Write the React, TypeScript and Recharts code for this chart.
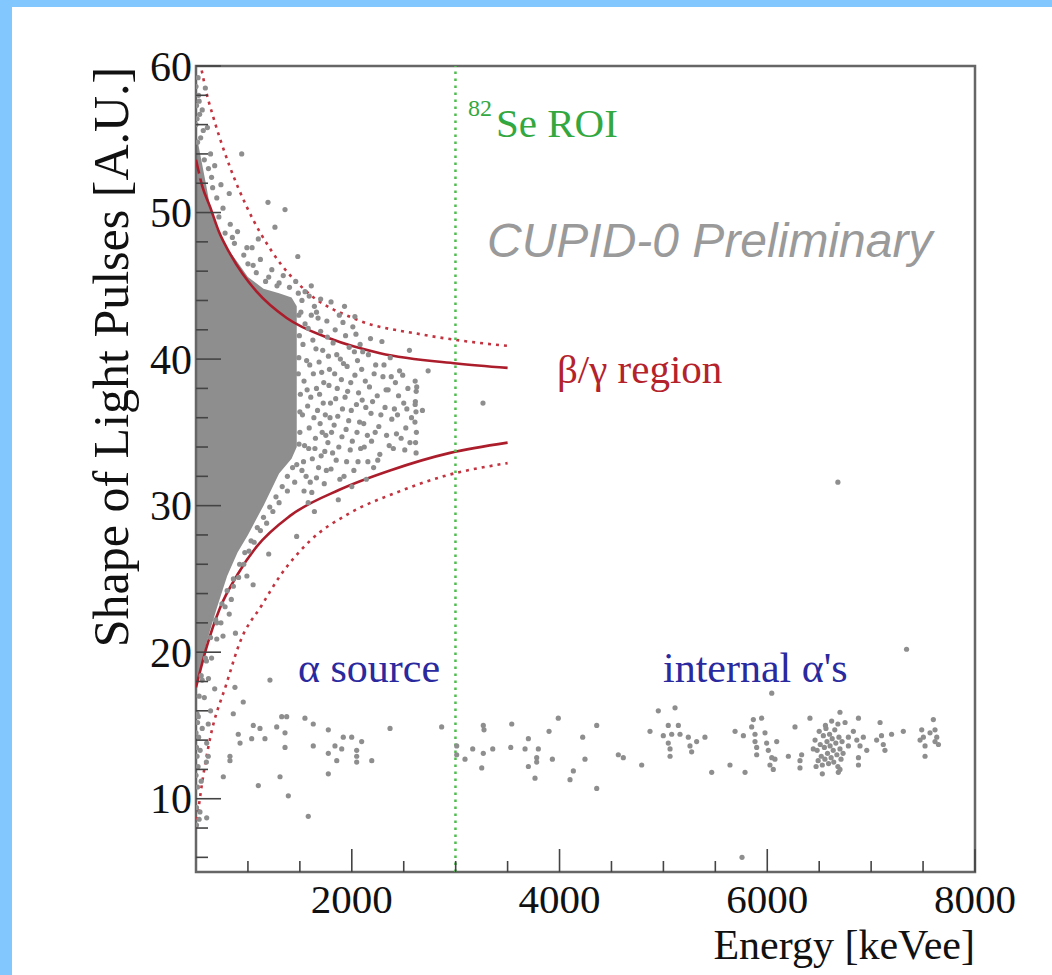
import React from 'react';
import { ComposedChart, XAxis, YAxis, Scatter, Line, Area, ReferenceLine, ReferenceArea } from 'recharts';

// ---- axis ticks ----
const xTicks = [1000, 1500, 2000, 2500, 3000, 3500, 4000, 4500, 5000, 5500, 6000, 6500, 7000, 7500, 8000];
const xMajor = [2000, 4000, 6000, 8000];
const yTicks = [6, 8, 10, 12, 14, 16, 18, 20, 22, 24, 26, 28, 30, 32, 34, 36, 38, 40, 42, 44, 46, 48, 50, 52, 54, 56, 58, 60];
const yMajor = [10, 20, 30, 40, 50, 60];

// ---- dense core of the beta/gamma band: [energy, low, high] ----
const coreBand: [number, number, number][] = [
  [500, 17.5, 55.5], [540, 18.6, 54.0], [600, 20.6, 51.8], [640, 21.6, 50.2], [700, 23.0, 48.9],
  [800, 25.2, 47.6], [900, 26.8, 46.6], [1000, 28.0, 45.6], [1150, 30.0, 44.8], [1300, 32.2, 44.5],
  [1420, 33.2, 44.2], [1470, 34.0, 43.6],
];

// ---- scattered events: [energy keVee, shape] ----
const upperFringe: [number, number][] = [
  [520, 59.2], [530, 57.6], [510, 56.4], [545, 55.1], [560, 57.0], [580, 53.6], [610, 55.8], [540, 52.5],
  [650, 52.4], [700, 51.0], [640, 54.0], [720, 49.7], [760, 50.3], [780, 48.6], [830, 49.2], [870, 47.9],
  [900, 48.7], [960, 47.1], [1000, 46.5], [1040, 47.6], [1080, 45.9], [1120, 46.8], [1170, 45.3], [1230, 46.1],
  [1280, 45.0], [1340, 45.7], [1400, 44.9], [1460, 45.3], [1550, 44.6], [1610, 45.0], [940, 54.0], [1193, 50.7],
  [1357, 50.2], [1260, 49.0], [2030, 42.9], [1930, 43.6], [590, 58.5], [680, 53.2], [820, 51.3], [1100, 48.2],
  [1480, 47.0], [1700, 44.1], [1800, 43.9], [500, 58.6], [505, 57.3], [515, 54.8], [525, 58.0], [500, 56.0],
  [535, 56.7], [570, 55.6], [620, 53.0], [660, 51.7], [740, 51.9], [850, 48.3], [990, 47.6],
];

const coreEdge: [number, number][] = [
  [1490, 43.0], [1495, 41.6], [1485, 39.0], [1500, 36.4], [1492, 34.2], [1470, 32.8], [1430, 32.6], [1380, 32.0],
  [1330, 31.3], [1270, 30.6], [1210, 29.9], [1150, 29.2], [1090, 28.5], [1030, 27.6], [970, 26.8], [920, 26.0],
  [860, 25.0], [800, 24.2], [750, 23.3], [690, 22.2], [640, 21.0], [590, 19.6], [550, 18.4], [1300, 45.2],
  [1200, 45.6], [1050, 46.4], [1485, 44.5],
];

const cloud: [number, number][] = [
  [1510, 43.2], [1530, 41.0], [1540, 38.5], [1525, 36.2], [1545, 34.1], [1560, 32.0], [1580, 42.1], [1595, 39.6],
  [1605, 37.4], [1590, 35.3], [1620, 33.2], [1615, 30.9], [1640, 43.6], [1655, 40.7], [1660, 38.0], [1670, 36.5],
  [1650, 34.6], [1680, 32.6], [1700, 41.9], [1710, 39.1], [1725, 37.0], [1715, 35.0], [1740, 33.7], [1735, 31.5],
  [1760, 42.6], [1775, 40.2], [1780, 38.2], [1790, 36.0], [1770, 34.3], [1800, 32.5], [1820, 41.1], [1835, 39.0],
  [1845, 37.3], [1830, 35.5], [1850, 33.1], [1870, 30.4], [1880, 43.0], [1890, 40.0], [1900, 38.6], [1910, 36.6],
  [1905, 34.7], [1925, 32.0], [1940, 41.6], [1955, 39.5], [1960, 37.8], [1970, 35.8], [1985, 33.8], [2000, 31.3],
  [2010, 42.2], [2025, 40.5], [2030, 38.9], [2045, 36.9], [2050, 35.0], [2060, 33.0], [2080, 41.0], [2095, 39.3],
  [2100, 37.2], [2115, 35.6], [2120, 34.0], [2140, 31.8], [2160, 40.3], [2170, 38.1], [2185, 36.3], [2190, 34.4],
  [2210, 32.6], [2230, 39.6], [2245, 37.5], [2260, 35.4], [2270, 33.5], [2290, 41.2], [2300, 38.8], [2320, 36.7],
  [2335, 34.8], [2350, 37.9], [2370, 40.1], [2385, 35.9], [2400, 33.9], [2420, 38.4], [2440, 36.2], [2460, 39.2],
  [2475, 34.6], [2500, 37.0], [2520, 35.3], [2540, 38.0], [2555, 40.6], [2575, 36.0],
  [2610, 38.5], [2620, 37.8], [2612, 37.1], [2618, 36.4], [2608, 35.7], [2622, 35.0], [2614, 34.3], [2619, 33.6],
  [2610, 36.9], [2625, 38.1], [2680, 36.5], [2735, 39.2], [3263, 37.0],
];

const cloudDense: [number, number][] = [
  [1490, 40.1], [1505, 37.6], [1500, 35.0], [1535, 33.0], [1550, 42.4], [1565, 39.9], [1570, 37.9], [1575, 36.8],
  [1585, 33.9], [1600, 31.6], [1610, 43.0], [1625, 41.3], [1630, 39.0], [1635, 36.0], [1645, 33.9], [1660, 31.9],
  [1675, 42.8], [1685, 39.8], [1690, 37.6], [1695, 35.6], [1705, 33.4], [1720, 40.6], [1730, 38.4], [1745, 36.2],
  [1750, 34.8], [1755, 32.4], [1765, 41.5], [1785, 39.3], [1795, 37.0], [1805, 35.0], [1815, 33.6], [1840, 42.0],
  [1855, 40.3], [1860, 38.0], [1865, 36.1], [1875, 34.0], [1885, 31.8], [1915, 42.5], [1920, 39.7], [1935, 37.4],
  [1945, 35.2], [1950, 33.0], [1975, 40.8], [1990, 38.4], [1995, 36.5], [2005, 34.4], [2020, 32.4], [2040, 41.7],
  [2055, 39.9], [2065, 37.7], [2075, 35.7], [2085, 33.9], [2105, 40.5], [2130, 38.5], [2135, 36.7], [2150, 34.8],
  [2155, 33.0], [2180, 41.4], [2200, 37.1], [2215, 39.0], [2225, 35.0], [2250, 33.1], [2280, 36.2], [2310, 39.6],
  [2330, 37.9], [2360, 34.1], [2380, 38.8], [2410, 36.6], [2430, 34.9], [2450, 37.5], [2490, 38.9], [2510, 33.8],
  [2530, 36.6], [2560, 34.3], [1520, 44.0], [1590, 44.3], [1660, 43.2], [1540, 31.0], [1580, 30.2], [1640, 29.6],
];

const lowerFringe: [number, number][] = [
  [510, 15.8], [505, 13.5], [520, 12.2], [515, 10.8], [505, 9.4], [530, 8.6], [560, 14.8], [580, 16.9],
  [620, 18.2], [650, 19.6], [700, 20.9], [740, 22.0], [780, 23.1], [820, 22.6], [860, 24.5], [910, 25.1],
  [960, 26.0], [1010, 26.9], [1060, 27.5], [1120, 28.3], [1180, 28.8], [1240, 29.6], [1300, 30.2], [1380, 31.0],
  [1450, 31.6], [1520, 32.4], [1200, 26.7], [1050, 24.6], [880, 21.3], [680, 17.5], [600, 12.5], [640, 16.0],
  [500, 14.5], [510, 12.9], [500, 11.6], [525, 14.2], [515, 15.2], [540, 13.3], [550, 11.2], [505, 8.2],
  [1469, 27.9], [530, 17.0], [560, 18.1], [600, 19.4], [700, 22.0], [760, 21.1], [840, 23.6], [990, 25.2],
];

const alphaSource: [number, number][] = [
  [875, 17.6], [955, 16.6], [859, 15.8], [1325, 15.6], [1373, 15.6], [1549, 15.5], [1629, 15.1], [1052, 15.0],
  [1116, 14.8], [1277, 14.9], [1357, 14.5], [1774, 14.7], [2368, 14.8], [2865, 14.9], [907, 14.4], [1036, 14.1],
  [1164, 14.1], [924, 13.8], [1918, 14.2], [1999, 14.2], [2095, 13.9], [1357, 13.5], [1629, 13.6], [1838, 13.6],
  [1903, 13.4], [1774, 13.1], [2047, 13.3], [2047, 12.9], [2047, 12.5], [1855, 12.6], [2192, 12.6], [827, 12.9],
  [827, 12.6], [763, 11.5], [1309, 11.5], [1774, 11.7], [1100, 10.9], [1389, 10.2], [1581, 8.8], [1212, 18.1],
  [618, 15.1], [603, 13.8], [618, 12.9], [538, 9.1], [603, 8.7], [522, 15.6],
];

const internalAlpha: [number, number][] = [
  [3010, 13.6], [3010, 13.0], [3090, 12.7], [3164, 13.4], [3266, 15.0], [3273, 14.7], [3266, 13.1], [3251, 12.1],
  [3357, 13.4], [3540, 15.1], [3530, 13.5], [3668, 13.4], [3700, 14.1], [3796, 13.4], [3780, 12.8], [3780, 12.5],
  [3700, 12.2], [3764, 11.4], [3899, 14.6], [3931, 12.7], [3988, 15.5], [4133, 11.9], [4101, 11.3], [4223, 14.2],
  [4245, 12.7], [4358, 15.0], [4358, 10.7], [4566, 13.0], [4614, 12.8], [4791, 12.3], [4871, 14.6], [4951, 16.0],
  [4999, 14.3], [5047, 15.0], [5080, 14.4], [5112, 16.2], [5144, 15.0], [5160, 14.4], [5047, 13.8], [5064, 13.4],
  [5064, 12.9], [5240, 14.2], [5256, 13.6], [5272, 13.2], [5320, 13.9], [5400, 14.2], [5465, 11.8], [5641, 12.3],
  [5786, 11.8], [5690, 14.6], [5770, 14.3], [5866, 15.4], [5946, 15.5], [5850, 14.9], [5882, 14.4], [5882, 13.9],
  [5898, 13.5], [5898, 13.0], [5978, 14.5], [5994, 13.8], [6010, 13.3], [6043, 12.8], [6026, 12.3], [6058, 12.0],
  [6091, 13.9], [6074, 12.7], [6203, 12.9], [6267, 14.9], [6315, 12.6], [6315, 12.1], [6331, 13.0], [6411, 15.5],
  [6443, 13.4], [6043, 17.2],
  [6460, 14.0], [6480, 13.3], [6490, 12.6], [6500, 14.6], [6510, 13.7], [6520, 12.9], [6530, 12.3], [6540, 14.3],
  [6550, 13.5], [6555, 12.7], [6565, 14.8], [6575, 13.9], [6580, 13.1], [6590, 12.4], [6600, 14.4], [6605, 13.6],
  [6615, 12.8], [6625, 14.1], [6635, 13.3], [6640, 12.5], [6650, 14.7], [6660, 13.8], [6670, 13.0], [6680, 12.2],
  [6690, 14.2], [6700, 13.4], [6710, 12.7], [6720, 13.9], [6730, 13.1], [6620, 15.3], [6560, 15.0], [6680, 15.1],
  [6470, 12.2], [6530, 11.7], [6700, 15.9], [6749, 15.2], [6684, 11.8], [6700, 12.0],
  [6878, 15.5], [6829, 14.6], [6862, 14.0], [6893, 13.6], [6925, 14.2], [6958, 13.3], [6781, 14.2], [6781, 13.6],
  [6878, 12.3], [6878, 12.8], [7086, 15.2], [7100, 14.3], [7117, 13.7], [7133, 13.3], [7053, 14.0], [7197, 14.4],
  [7310, 14.6], [7487, 14.7], [7503, 14.2], [7519, 13.6], [7519, 12.9], [7567, 14.5], [7599, 15.4], [7615, 14.7],
  [7615, 13.9], [7632, 14.2], [7648, 13.7], [7471, 14.0],
];

const outliers: [number, number][] = [[6680, 31.6], [7341, 20.2], [5757, 6.0]];

// ---- cut curves: [energy, shape] ----
const upperSolid: [number, number][] = [
  [500, 53.6], [560, 51.8], [635, 50.4], [720, 48.7], [827, 47.2], [950, 45.8], [1084, 44.6], [1373, 42.8],
  [1790, 41.4], [2272, 40.4], [3010, 39.7], [3500, 39.4],
];
const lowerSolid: [number, number][] = [
  [500, 17.6], [600, 20.3], [730, 23.0], [900, 25.3], [1084, 27.2], [1405, 29.3], [1886, 31.1], [2368, 32.4],
  [2946, 33.6], [3500, 34.3],
];
const upperDotted: [number, number][] = [
  [555, 59.7], [600, 58.2], [667, 56.5], [827, 53.1], [988, 50.4], [1244, 47.2], [1566, 44.6], [2047, 42.7],
  [2657, 41.7], [3010, 41.3], [3500, 40.9],
];
const lowerDotted: [number, number][] = [
  [500, 8.0], [555, 10.9], [635, 14.1], [796, 17.9], [924, 20.7], [1133, 23.2], [1309, 25.2], [1598, 27.6],
  [1983, 29.5], [2432, 30.9], [2881, 32.0], [3500, 32.9],
];

const roiEnergy = 2998;

const toPts = (a: [number, number][]) => a.map(([e, s]) => ({ e, s }));
const coreData = coreBand.map(([e, lo, hi]) => ({ e, band: [lo, hi] }));

const GRAY = '#8e8e8e';
const RED = '#ac1d2c';
const RED_DOT = '#c23440';
const SERIF = '"Liberation Serif", "Times New Roman", serif';
const SANS = '"Liberation Sans", Arial, sans-serif';

const dot = (p: any) => <circle cx={p.cx} cy={p.cy} r={2.6} fill={GRAY} />;

const renderXTick = (props: any) => {
  const { x, y, payload } = props;
  const v = payload.value;
  const major = xMajor.includes(v);
  return (
    <g key={`xt-${v}`}>
      <line x1={x} x2={x} y1={y} y2={y - (major ? 23 : 11)} stroke="#444" strokeWidth={1.6} />
      {major && (
        <text x={x} y={y + 41} textAnchor="middle" fontFamily={SERIF} fontSize={41} fill="#111">
          {v}
        </text>
      )}
    </g>
  );
};

const renderYTick = (props: any) => {
  const { x, y, payload } = props;
  const v = payload.value;
  const major = yMajor.includes(v);
  return (
    <g key={`yt-${v}`}>
      <line x1={x} x2={x + (major ? 25 : 12)} y1={y} y2={y} stroke="#444" strokeWidth={1.6} />
      {major && (
        <text x={x - 4} y={y} dy="0.35em" textAnchor="end" fontFamily={SERIF} fontSize={42} fill="#111">
          {v}
        </text>
      )}
    </g>
  );
};

export default function App() {
  return (
    <div style={{ position: 'absolute', left: 0, top: 0, width: 1052, height: 975, background: '#82c7fd', overflow: 'hidden' }}>
      <div style={{ position: 'absolute', left: 12, top: 7, width: 1040, height: 968, background: '#ffffff' }} />
      <div style={{ position: 'absolute', left: 0, top: 0 }}>
        <ComposedChart width={1052} height={975} margin={{ top: 66, right: 77, bottom: 102, left: 195 }}>
          <XAxis
            type="number"
            dataKey="e"
            domain={[500, 8000]}
            allowDataOverflow
            ticks={xTicks}
            interval={0}
            height={1}
            tickSize={0}
            tickMargin={0}
            axisLine={false}
            tickLine={false}
            tick={renderXTick}
          />
          <YAxis
            type="number"
            dataKey="s"
            domain={[5, 60]}
            allowDataOverflow
            ticks={yTicks}
            interval={0}
            width={1}
            tickSize={0}
            tickMargin={0}
            axisLine={false}
            tickLine={false}
            tick={renderYTick}
          />
          <Area
            data={coreData}
            dataKey="band"
            type="linear"
            stroke="none"
            fill={GRAY}
            fillOpacity={1}
            dot={false}
            activeDot={false}
            isAnimationActive={false}
          />
          <Scatter data={toPts(coreEdge)} shape={dot} isAnimationActive={false} />
          <Scatter data={toPts(upperFringe)} shape={dot} isAnimationActive={false} />
          <Scatter data={toPts(cloud)} shape={dot} isAnimationActive={false} />
          <Scatter data={toPts(cloudDense)} shape={dot} isAnimationActive={false} />
          <Scatter data={toPts(lowerFringe)} shape={dot} isAnimationActive={false} />
          <Scatter data={toPts(alphaSource)} shape={dot} isAnimationActive={false} />
          <Scatter data={toPts(internalAlpha)} shape={dot} isAnimationActive={false} />
          <Scatter data={toPts(outliers)} shape={dot} isAnimationActive={false} />
          <Line data={toPts(upperDotted)} dataKey="s" type="monotone" stroke={RED_DOT} strokeWidth={2.6} strokeDasharray="3 5" dot={false} activeDot={false} isAnimationActive={false} />
          <Line data={toPts(lowerDotted)} dataKey="s" type="monotone" stroke={RED_DOT} strokeWidth={2.6} strokeDasharray="3 5" dot={false} activeDot={false} isAnimationActive={false} />
          <Line data={toPts(upperSolid)} dataKey="s" type="monotone" stroke={RED} strokeWidth={2.6} dot={false} activeDot={false} isAnimationActive={false} />
          <Line data={toPts(lowerSolid)} dataKey="s" type="monotone" stroke={RED} strokeWidth={2.6} dot={false} activeDot={false} isAnimationActive={false} />
          <ReferenceLine x={roiEnergy} stroke="#4dbd4d" strokeWidth={2.5} strokeDasharray="2.5 4.5" />
          <ReferenceArea x1={500} x2={8000} y1={5} y2={60} fill="none" stroke="#666" strokeWidth={2.5} ifOverflow="visible" />
        </ComposedChart>
      </div>
      <svg width={1052} height={975} style={{ position: 'absolute', left: 0, top: 0, pointerEvents: 'none' }}>
        <text transform="translate(111,357) rotate(-90)" textAnchor="middle" dominantBaseline="central" fontFamily={SERIF} fontSize={50} fill="#111">
          Shape of Light Pulses [A.U.]
        </text>
        <text x={975} y={959} textAnchor="end" fontFamily={SERIF} fontSize={42} fill="#111">
          Energy [keVee]
        </text>
        <text x={468} y={116} fontFamily={SERIF} fontSize={24} fill="#34a840">82</text>
        <text x={496} y={137} fontFamily={SERIF} fontSize={41} fill="#34a840">Se ROI</text>
        <text x={487} y={257} fontFamily={SANS} fontStyle="italic" fontSize={48} fill="#9a9a9a">CUPID-0 Preliminary</text>
        <text x={557} y={383} fontFamily={SERIF} fontSize={41} fill="#b4232b">β/γ region</text>
        <text x={298} y={682} fontFamily={SERIF} fontSize={42} fill="#2a2a9e">α source</text>
        <text x={663} y={682} fontFamily={SERIF} fontSize={42} fill="#2a2a9e">internal α's</text>
      </svg>
    </div>
  );
}
